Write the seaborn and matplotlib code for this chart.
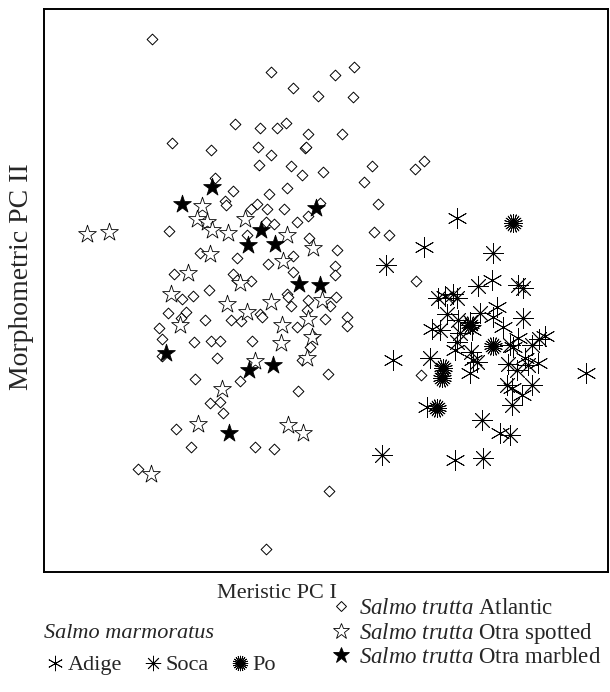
import numpy as np
import pandas as pd
import matplotlib
matplotlib.use('Agg')
import matplotlib.pyplot as plt
import seaborn as sns
from matplotlib.lines import Line2D

# scores (arbitrary PC units, PC II axis pointing down)
atlantic_x = [152, 271, 354, 335, 293, 318, 353, 235, 260, 277, 286, 308, 342, 172, 211, 258, 271, 305, 306,
              259, 291, 302, 323, 372, 364, 415, 424, 215, 233, 269, 287, 225, 226, 251, 257, 267, 284, 320,
              378, 169, 266, 274, 297, 308, 247, 309, 374, 389, 200, 237, 268, 337, 293, 174, 233, 251, 237,
              335, 335, 293, 209, 193, 182, 287, 288, 308, 336, 168, 186, 181, 205, 231, 241, 260, 262, 291,
              330, 307, 325, 347, 347, 297, 159, 162, 194, 211, 220, 252, 313, 310, 162, 217, 302, 328, 195,
              240, 298, 210, 220, 223, 176, 191, 255, 274, 138, 329, 266, 416, 421, 452]
atlantic_y = [39, 72, 67, 75, 88, 96, 97, 124, 128, 128, 123, 134, 134, 143, 150, 147, 155, 148, 147,
              165, 166, 175, 172, 166, 182, 169, 161, 178, 191, 194, 188, 201, 205, 209, 204, 209, 209, 203,
              204, 231, 222, 224, 222, 216, 235, 238, 232, 235, 253, 258, 264, 250, 256, 274, 274, 281, 280,
              266, 275, 272, 290, 296, 299, 294, 297, 300, 297, 313, 312, 318, 320, 320, 321, 314, 317, 306,
              306, 310, 319, 317, 326, 327, 328, 339, 342, 341, 341, 341, 336, 347, 356, 358, 360, 374, 379,
              381, 391, 403, 402, 413, 429, 447, 447, 449, 469, 491, 549, 281, 375, 297]

spotted_x = [87, 109, 202, 197, 207, 212, 228, 245, 287, 210, 188, 171, 227, 180, 240, 247, 271, 283, 282,
             281, 255, 313, 322, 308, 312, 307, 222, 198, 288, 303, 151]
spotted_y = [234, 232, 206, 219, 222, 230, 233, 219, 235, 254, 273, 294, 304, 325, 283, 312, 302, 261, 325,
             343, 361, 248, 300, 319, 337, 358, 389, 424, 425, 433, 474]

marbled_x = [212, 182, 316, 261, 248, 275, 299, 320, 166, 249, 273, 229]
marbled_y = [187, 204, 208, 230, 245, 244, 284, 285, 353, 370, 365, 433]

adige_x = [457, 424, 492, 445, 497, 493, 503, 432, 472, 518, 545, 513, 455, 473, 393, 525, 538, 470, 586,
           512, 522, 427, 500, 455]
adige_y = [218, 247, 280, 296, 307, 317, 327, 329, 330, 338, 336, 347, 350, 360, 360, 358, 363, 373, 373,
           388, 395, 407, 433, 460]

soca_x = [493, 478, 518, 523, 438, 453, 457, 480, 447, 458, 523, 440, 470, 460, 539, 510, 532, 457, 471,
          477, 430, 508, 528, 517, 507, 532, 512, 482, 510, 382, 483, 386]
soca_y = [253, 286, 285, 288, 298, 294, 298, 313, 314, 320, 318, 330, 322, 333, 339, 345, 345, 342, 352,
          362, 358, 364, 365, 370, 385, 385, 405, 420, 435, 455, 458, 265]

po_x = [513, 493, 443, 442, 437, 470]
po_y = [223, 346, 368, 378, 408, 325]

groups = ['Atlantic', 'Otra spotted', 'Otra marbled', 'Adige', 'Soca', 'Po']
xs = [atlantic_x, spotted_x, marbled_x, adige_x, soca_x, po_x]
ys = [atlantic_y, spotted_y, marbled_y, adige_y, soca_y, po_y]
df = pd.concat([pd.DataFrame({'pc1': x, 'pc2': y, 'group': g}) for g, x, y in zip(groups, xs, ys)])

sns.set_style('white')
plt.rcParams['font.family'] = ['Liberation Serif', 'DejaVu Serif']
plt.rcParams['mathtext.fontset'] = 'custom'
plt.rcParams['mathtext.it'] = 'Liberation Serif:italic'
plt.rcParams['mathtext.rm'] = 'Liberation Serif'

fig = plt.figure(figsize=(6.1, 6.92), dpi=100)
ax = fig.add_axes([0.072, 0.1734, 0.9246, 0.8136])

styles = {
    'Atlantic': dict(marker='D', s=30, facecolor='white', edgecolor='black', linewidth=0.7),
    'Otra spotted': dict(marker='*', s=180, facecolor='white', edgecolor='black', linewidth=0.6),
    'Otra marbled': dict(marker='*', s=180, facecolor='black', edgecolor='black', linewidth=0.6),
    'Adige': dict(marker=(6, 2, 0), s=200, color='black', linewidth=0.6),
    'Soca': dict(marker=(8, 2, 0), s=200, color='black', linewidth=0.6),
    'Po': dict(marker=(20, 2, 0), s=170, color='black', linewidth=0.6),
}
for g in groups:
    sub = df[df['group'] == g]
    sns.scatterplot(data=sub, x='pc1', y='pc2', ax=ax, legend=False, **styles[g])

ax.set_xlim(44, 608)
ax.set_ylim(572, 9)
ax.set_xticks([])
ax.set_yticks([])
for sp in ax.spines.values():
    sp.set_linewidth(1.4)
    sp.set_color('black')
ax.set_xlabel('Meristic PC I', fontsize=16)
ax.set_ylabel('Morphometric PC II', fontsize=20)
ax.xaxis.set_label_coords((277 - 44) / 564, -0.021)
ax.yaxis.set_label_coords(-0.018, 0.525)

# legend, left block
fig.text(0.211, 1 - 634 / 692, 'Salmo marmoratus', fontsize=16, style='italic', ha='center', va='center')
h_left = [Line2D([], [], ls='none', color='black', marker=(6, 2, 0), markersize=11, mew=0.6),
          Line2D([], [], ls='none', color='black', marker=(8, 2, 0), markersize=11, mew=0.6),
          Line2D([], [], ls='none', color='black', marker=(20, 2, 0), markersize=11, mew=0.6)]
leg1 = fig.legend(h_left, ['Adige', 'Soca', 'Po'], ncol=3, loc='center left',
                  bbox_to_anchor=(0.058, 1 - 665 / 692), frameon=False, fontsize=16,
                  handlelength=0.8, handletextpad=0.15, columnspacing=1.0, borderpad=0)

# legend, right block
h_right = [Line2D([], [], ls='none', marker='D', markersize=5, mfc='white', mec='black', mew=0.7),
           Line2D([], [], ls='none', marker='*', markersize=12, mfc='white', mec='black', mew=0.6),
           Line2D([], [], ls='none', marker='*', markersize=12, mfc='black', mec='black', mew=0.6)]
labels_right = [r'$\it{Salmo\ trutta}$ Atlantic',
                r'$\it{Salmo\ trutta}$ Otra spotted',
                r'$\it{Salmo\ trutta}$ Otra marbled']
leg2 = fig.legend(h_right, labels_right, loc='upper left', bbox_to_anchor=(0.524, 1 - 587 / 692),
                  frameon=False, fontsize=16.5, handlelength=0.9, handletextpad=0.3,
                  labelspacing=0.05, borderpad=0)

fig.savefig('out.png', dpi=100)
